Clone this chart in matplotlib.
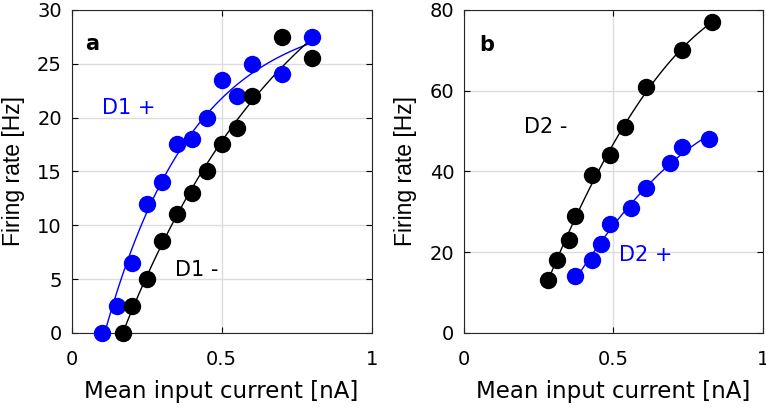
import numpy as np
import matplotlib.pyplot as plt

plt.rcParams['font.family'] = ['DejaVu Sans']

# panel a
d1p_x = [0.1, 0.15, 0.2, 0.25, 0.3, 0.35, 0.4, 0.45, 0.5, 0.55, 0.6, 0.7, 0.8]
d1p_y = [0, 2.5, 6.5, 12, 14, 17.5, 18, 20, 23.5, 22, 25, 24, 27.5]
d1m_x = [0.17, 0.2, 0.25, 0.3, 0.35, 0.4, 0.45, 0.5, 0.55, 0.6, 0.7, 0.8]
d1m_y = [0, 2.5, 5, 8.5, 11, 13, 15, 17.5, 19, 22, 27.5, 25.5]

# panel b
d2m_x = [0.28, 0.31, 0.35, 0.37, 0.43, 0.49, 0.54, 0.61, 0.73, 0.83]
d2m_y = [13, 18, 23, 29, 39, 44, 51, 61, 70, 77]
d2p_x = [0.37, 0.43, 0.46, 0.49, 0.56, 0.61, 0.69, 0.73, 0.82]
d2p_y = [14, 18, 22, 27, 31, 36, 42, 46, 48]

BLUE = '#0000ff'
GRID = '#dcdcdc'

fig = plt.figure(figsize=(7.66, 4.09), dpi=100)
ax1 = fig.add_axes([0.0936, 0.186, 0.3916, 0.79])
ax2 = fig.add_axes([0.6057, 0.186, 0.390, 0.79])


def sat_curve(ax, x, y, color):
    # saturating fit y = A*(1-exp(-(x-x0)/tau)), simple grid search
    x = np.asarray(x, float)
    y = np.asarray(y, float)
    best = None
    for tau in np.linspace(0.1, 2.0, 96):
        for x0 in np.linspace(x.min() - 0.05, x.min() + 0.05, 41):
            f = 1 - np.exp(-(x - x0) / tau)
            A = f @ y / (f @ f)
            err = np.sum((A * f - y) ** 2)
            if best is None or err < best[0]:
                best = (err, A, x0, tau)
    _, A, x0, tau = best
    xs = np.linspace(x0, x.max(), 100)
    ax.plot(xs, A * (1 - np.exp(-(xs - x0) / tau)), color=color, lw=1, zorder=2)


def fit_curve(ax, x, y, color):
    c = np.polyfit(x, y, 2)
    xs = np.linspace(min(x), max(x), 100)
    ax.plot(xs, np.polyval(c, xs), color=color, lw=1, zorder=2)


def dots(ax, x, y, color):
    ax.plot(x, y, 'o', color=color, ms=11.5, zorder=3, clip_on=False)


for ax, ymax, yt in [(ax1, 30, np.arange(0, 31, 5)), (ax2, 80, np.arange(0, 81, 20))]:
    ax.set_xlim(0, 1)
    ax.set_ylim(0, ymax)
    ax.set_xticks([0, 0.5, 1])
    ax.set_xticklabels(['0', '0.5', '1'])
    ax.set_yticks(yt)
    ax.grid(True, color=GRID, lw=1)
    ax.set_axisbelow(True)
    ax.tick_params(direction='in', top=True, right=True, labelsize=14, length=4)
    ax.tick_params(axis='x', pad=12)
    ax.tick_params(axis='y', pad=7)
    for s in ax.spines.values():
        s.set_linewidth(0.8)
        s.set_color('#262626')
    ax.set_xlabel('Mean input current [nA]', fontsize=16.5, labelpad=8)
    ax.set_ylabel('Firing rate [Hz]', fontsize=16.5, labelpad=9,
                  family='Liberation Sans')

sat_curve(ax1, d1p_x, d1p_y, BLUE)
sat_curve(ax1, d1m_x, d1m_y, 'black')
dots(ax1, d1p_x, d1p_y, BLUE)
dots(ax1, d1m_x, d1m_y, 'black')
ax1.text(0.045, 26.8, 'a', fontsize=15, fontweight='bold', va='center')
ax1.text(0.1, 20.9, 'D1 +', fontsize=15, color=BLUE, va='center')
ax1.text(0.345, 5.85, 'D1 -', fontsize=15, color='black', va='center')

fit_curve(ax2, d2m_x, d2m_y, 'black')
fit_curve(ax2, d2p_x, d2p_y, BLUE)
dots(ax2, d2m_x, d2m_y, 'black')
dots(ax2, d2p_x, d2p_y, BLUE)
ax2.text(0.05, 71.3, 'b', fontsize=15, fontweight='bold', va='center')
ax2.text(0.2, 51, 'D2 -', fontsize=15, color='black', va='center')
ax2.text(0.52, 19.3, 'D2 +', fontsize=15, color=BLUE, va='center')

fig.savefig('out.png', dpi=100)
